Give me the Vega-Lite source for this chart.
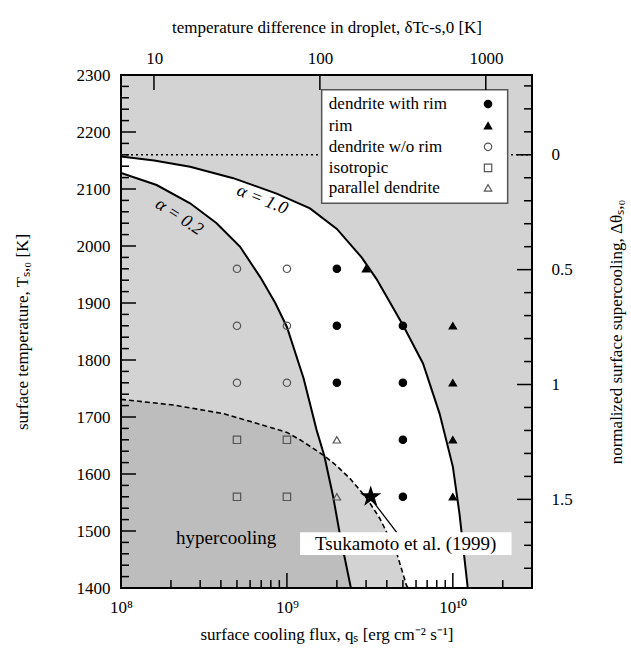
{
  "$schema": "https://vega.github.io/schema/vega-lite/v6.json",
  "width": 411,
  "height": 513,
  "autosize": {"type": "none"},
  "padding": {"left": 121, "top": 75, "right": 99, "bottom": 64},
  "background": "white",
  "config": {
    "font": "Liberation Serif",
    "view": {"fill": "#d3d3d3", "stroke": "black", "strokeWidth": 2},
    "axis": {
      "labelFont": "Liberation Serif", "titleFont": "Liberation Serif",
      "labelFontSize": 17, "titleFontSize": 17, "titleFontWeight": "normal",
      "labelColor": "black", "titleColor": "black",
      "ticks": false, "domain": false, "grid": false, "labelOverlap": false, "labelFlush": false
    }
  },
  "datasets": {
    "curves": [
      {"series": "a10", "q": 1e8, "T": 2157},
      {"series": "a10", "q": 1.585e8, "T": 2150},
      {"series": "a10", "q": 2.61e8, "T": 2139},
      {"series": "a10", "q": 4.75e8, "T": 2119},
      {"series": "a10", "q": 8.67e8, "T": 2092},
      {"series": "a10", "q": 1.377e9, "T": 2066},
      {"series": "a10", "q": 2.0e9, "T": 2030},
      {"series": "a10", "q": 2.82e9, "T": 1980},
      {"series": "a10", "q": 3.47e9, "T": 1942},
      {"series": "a10", "q": 5.01e9, "T": 1861},
      {"series": "a10", "q": 6.61e9, "T": 1794},
      {"series": "a10", "q": 8.32e9, "T": 1706},
      {"series": "a10", "q": 1.0e10, "T": 1613},
      {"series": "a10", "q": 1.096e10, "T": 1531},
      {"series": "a10", "q": 1.23e10, "T": 1400},
      {"series": "a02", "q": 1e8, "T": 2128},
      {"series": "a02", "q": 1.64e8, "T": 2107},
      {"series": "a02", "q": 2.61e8, "T": 2075},
      {"series": "a02", "q": 3.77e8, "T": 2040},
      {"series": "a02", "q": 5.21e8, "T": 1999},
      {"series": "a02", "q": 6.92e8, "T": 1945},
      {"series": "a02", "q": 8.51e8, "T": 1900},
      {"series": "a02", "q": 1.0e9, "T": 1858},
      {"series": "a02", "q": 1.26e9, "T": 1768},
      {"series": "a02", "q": 1.51e9, "T": 1677},
      {"series": "a02", "q": 1.68e9, "T": 1632},
      {"series": "a02", "q": 1.9e9, "T": 1560},
      {"series": "a02", "q": 2.08e9, "T": 1496},
      {"series": "a02", "q": 2.43e9, "T": 1400},
      {"series": "dash", "q": 1e8, "T": 1731},
      {"series": "dash", "q": 2.07e8, "T": 1721},
      {"series": "dash", "q": 4.13e8, "T": 1706},
      {"series": "dash", "q": 6.56e8, "T": 1689},
      {"series": "dash", "q": 1.0e9, "T": 1673},
      {"series": "dash", "q": 1.2e9, "T": 1660},
      {"series": "dash", "q": 1.68e9, "T": 1632},
      {"series": "dash", "q": 2.0e9, "T": 1614},
      {"series": "dash", "q": 2.4e9, "T": 1592},
      {"series": "dash", "q": 3.02e9, "T": 1558},
      {"series": "dash", "q": 3.63e9, "T": 1522},
      {"series": "dash", "q": 4.57e9, "T": 1463},
      {"series": "dash", "q": 5.25e9, "T": 1405},
      {"series": "dash", "q": 5.37e9, "T": 1400},
      {"series": "hyper", "q": 1e8, "T": 1731},
      {"series": "hyper", "q": 2.07e8, "T": 1721},
      {"series": "hyper", "q": 4.13e8, "T": 1706},
      {"series": "hyper", "q": 6.56e8, "T": 1689},
      {"series": "hyper", "q": 1.0e9, "T": 1673},
      {"series": "hyper", "q": 1.2e9, "T": 1660},
      {"series": "hyper", "q": 1.68e9, "T": 1632},
      {"series": "hyper", "q": 1.9e9, "T": 1560},
      {"series": "hyper", "q": 2.08e9, "T": 1496},
      {"series": "hyper", "q": 2.43e9, "T": 1400},
      {"series": "melt", "q": 1e8, "T": 2160},
      {"series": "melt", "q": 3e10, "T": 2160}
    ],
    "pts": [
      {"q": 5e8, "T": 1960, "type": "dendrite w/o rim"},
      {"q": 1e9, "T": 1960, "type": "dendrite w/o rim"},
      {"q": 2e9, "T": 1960, "type": "dendrite with rim"},
      {"q": 3e9, "T": 1960, "type": "rim"},
      {"q": 5e8, "T": 1860, "type": "dendrite w/o rim"},
      {"q": 1e9, "T": 1860, "type": "dendrite w/o rim"},
      {"q": 2e9, "T": 1860, "type": "dendrite with rim"},
      {"q": 5e9, "T": 1860, "type": "dendrite with rim"},
      {"q": 1e10, "T": 1860, "type": "rim"},
      {"q": 5e8, "T": 1760, "type": "dendrite w/o rim"},
      {"q": 1e9, "T": 1760, "type": "dendrite w/o rim"},
      {"q": 2e9, "T": 1760, "type": "dendrite with rim"},
      {"q": 5e9, "T": 1760, "type": "dendrite with rim"},
      {"q": 1e10, "T": 1760, "type": "rim"},
      {"q": 5e8, "T": 1660, "type": "isotropic"},
      {"q": 1e9, "T": 1660, "type": "isotropic"},
      {"q": 2e9, "T": 1660, "type": "parallel dendrite"},
      {"q": 5e9, "T": 1660, "type": "dendrite with rim"},
      {"q": 1e10, "T": 1660, "type": "rim"},
      {"q": 5e8, "T": 1560, "type": "isotropic"},
      {"q": 1e9, "T": 1560, "type": "isotropic"},
      {"q": 2e9, "T": 1560, "type": "parallel dendrite"},
      {"q": 5e9, "T": 1560, "type": "dendrite with rim"},
      {"q": 1e10, "T": 1560, "type": "rim"}
    ],
    "legendRows": [
      {"type": "dendrite with rim", "lq": 1.79e9, "q": 1.63e10, "T": 2249},
      {"type": "rim", "lq": 1.79e9, "q": 1.63e10, "T": 2211},
      {"type": "dendrite w/o rim", "lq": 1.79e9, "q": 1.63e10, "T": 2174},
      {"type": "isotropic", "lq": 1.79e9, "q": 1.63e10, "T": 2137},
      {"type": "parallel dendrite", "lq": 1.79e9, "q": 1.63e10, "T": 2102}
    ],
    "bottomTicks": [
      {"q": 2e8, "T": 1400, "kind": "minor"}, {"q": 3e8, "T": 1400, "kind": "minor"}, {"q": 4e8, "T": 1400, "kind": "minor"}, {"q": 5e8, "T": 1400, "kind": "minor"},
      {"q": 6e8, "T": 1400, "kind": "minor"}, {"q": 7e8, "T": 1400, "kind": "minor"}, {"q": 8e8, "T": 1400, "kind": "minor"}, {"q": 9e8, "T": 1400, "kind": "minor"},
      {"q": 1e9, "T": 1400, "kind": "major"},
      {"q": 2e9, "T": 1400, "kind": "minor"}, {"q": 3e9, "T": 1400, "kind": "minor"}, {"q": 4e9, "T": 1400, "kind": "minor"}, {"q": 5e9, "T": 1400, "kind": "minor"},
      {"q": 6e9, "T": 1400, "kind": "minor"}, {"q": 7e9, "T": 1400, "kind": "minor"}, {"q": 8e9, "T": 1400, "kind": "minor"}, {"q": 9e9, "T": 1400, "kind": "minor"},
      {"q": 1e10, "T": 1400, "kind": "major"},
      {"q": 2e10, "T": 1400, "kind": "minor"}
    ],
    "topTicks": [
      {"q": 1.58e8, "T": 2300}, {"q": 1.58e9, "T": 2300}, {"q": 1.58e10, "T": 2300}
    ],
    "leftTicks": [
      {"q": 1e8, "T": 1420, "kind": "minor"}, {"q": 1e8, "T": 1440, "kind": "minor"}, {"q": 1e8, "T": 1460, "kind": "minor"}, {"q": 1e8, "T": 1480, "kind": "minor"}, {"q": 1e8, "T": 1500, "kind": "major"},
      {"q": 1e8, "T": 1520, "kind": "minor"}, {"q": 1e8, "T": 1540, "kind": "minor"}, {"q": 1e8, "T": 1560, "kind": "minor"}, {"q": 1e8, "T": 1580, "kind": "minor"}, {"q": 1e8, "T": 1600, "kind": "major"},
      {"q": 1e8, "T": 1620, "kind": "minor"}, {"q": 1e8, "T": 1640, "kind": "minor"}, {"q": 1e8, "T": 1660, "kind": "minor"}, {"q": 1e8, "T": 1680, "kind": "minor"}, {"q": 1e8, "T": 1700, "kind": "major"},
      {"q": 1e8, "T": 1720, "kind": "minor"}, {"q": 1e8, "T": 1740, "kind": "minor"}, {"q": 1e8, "T": 1760, "kind": "minor"}, {"q": 1e8, "T": 1780, "kind": "minor"}, {"q": 1e8, "T": 1800, "kind": "major"},
      {"q": 1e8, "T": 1820, "kind": "minor"}, {"q": 1e8, "T": 1840, "kind": "minor"}, {"q": 1e8, "T": 1860, "kind": "minor"}, {"q": 1e8, "T": 1880, "kind": "minor"}, {"q": 1e8, "T": 1900, "kind": "major"},
      {"q": 1e8, "T": 1920, "kind": "minor"}, {"q": 1e8, "T": 1940, "kind": "minor"}, {"q": 1e8, "T": 1960, "kind": "minor"}, {"q": 1e8, "T": 1980, "kind": "minor"}, {"q": 1e8, "T": 2000, "kind": "major"},
      {"q": 1e8, "T": 2020, "kind": "minor"}, {"q": 1e8, "T": 2040, "kind": "minor"}, {"q": 1e8, "T": 2060, "kind": "minor"}, {"q": 1e8, "T": 2080, "kind": "minor"}, {"q": 1e8, "T": 2100, "kind": "major"},
      {"q": 1e8, "T": 2120, "kind": "minor"}, {"q": 1e8, "T": 2140, "kind": "minor"}, {"q": 1e8, "T": 2160, "kind": "minor"}, {"q": 1e8, "T": 2180, "kind": "minor"}, {"q": 1e8, "T": 2200, "kind": "major"},
      {"q": 1e8, "T": 2220, "kind": "minor"}, {"q": 1e8, "T": 2240, "kind": "minor"}, {"q": 1e8, "T": 2260, "kind": "minor"}, {"q": 1e8, "T": 2280, "kind": "minor"}
    ],
    "rightTicks": [
      {"q": 3e10, "T": 2280.9, "kind": "minor"}, {"q": 3e10, "T": 2240.6, "kind": "minor"}, {"q": 3e10, "T": 2200.3, "kind": "minor"}, {"q": 3e10, "T": 2160, "kind": "major"},
      {"q": 3e10, "T": 2119.7, "kind": "minor"}, {"q": 3e10, "T": 2079.4, "kind": "minor"}, {"q": 3e10, "T": 2039.1, "kind": "minor"}, {"q": 3e10, "T": 1998.8, "kind": "minor"}, {"q": 3e10, "T": 1958.5, "kind": "major"},
      {"q": 3e10, "T": 1918.2, "kind": "minor"}, {"q": 3e10, "T": 1877.9, "kind": "minor"}, {"q": 3e10, "T": 1837.6, "kind": "minor"}, {"q": 3e10, "T": 1797.3, "kind": "minor"}, {"q": 3e10, "T": 1757, "kind": "major"},
      {"q": 3e10, "T": 1716.7, "kind": "minor"}, {"q": 3e10, "T": 1676.4, "kind": "minor"}, {"q": 3e10, "T": 1636.1, "kind": "minor"}, {"q": 3e10, "T": 1595.8, "kind": "minor"}, {"q": 3e10, "T": 1555.5, "kind": "major"},
      {"q": 3e10, "T": 1515.2, "kind": "minor"}, {"q": 3e10, "T": 1474.9, "kind": "minor"}, {"q": 3e10, "T": 1434.6, "kind": "minor"}
    ]
  },
  "layer": [
    {
      "layer": [
        {
          "data": {"name": "curves"},
          "transform": [{"filter": "datum.series == 'a10'"}],
          "mark": {"type": "area", "color": "white", "clip": true},
          "encoding": {
            "x": {
              "field": "q", "type": "quantitative",
              "scale": {"type": "log", "domain": [1e8, 3e10], "nice": false},
              "axis": {
                "orient": "bottom", "values": [1e8, 1e9, 1e10],
                "labelExpr": "datum.value == 1e8 ? '10⁸' : datum.value == 1e9 ? '10⁹' : '10¹⁰'",
                "labelPadding": 11, "labelOverlap": false,
                "title": "surface cooling flux, qₛ [erg cm⁻² s⁻¹]",
                "titleX": 205.5, "titleY": 46, "titleBaseline": "middle", "titleAlign": "center"
              }
            },
            "y": {
              "field": "T", "type": "quantitative",
              "scale": {"domain": [1400, 2300], "nice": false, "zero": false},
              "axis": {
                "orient": "left",
                "values": [1400, 1500, 1600, 1700, 1800, 1900, 2000, 2100, 2200, 2300],
                "format": "d", "labelPadding": 11, "labelOverlap": false,
                "title": "surface temperature, Tₛ,₀ [K]",
                "titleAngle": 270, "titleX": -99, "titleY": 256.5, "titleBaseline": "middle", "titleAlign": "center"
              }
            },
            "y2": {"datum": 1400}
          }
        },
        {
          "data": {"name": "curves"},
          "transform": [{"filter": "datum.series == 'a02'"}],
          "mark": {"type": "area", "color": "#d3d3d3", "clip": true},
          "encoding": {
            "x": {"field": "q", "type": "quantitative"},
            "y": {"field": "T", "type": "quantitative"},
            "y2": {"datum": 1400}
          }
        },
        {
          "data": {"name": "curves"},
          "transform": [{"filter": "datum.series == 'dash'"}],
          "mark": {"type": "area", "color": "#d3d3d3", "clip": true},
          "encoding": {
            "x": {"field": "q", "type": "quantitative"},
            "y": {"field": "T", "type": "quantitative"},
            "y2": {"datum": 1400}
          }
        },
        {
          "data": {"name": "curves"},
          "transform": [{"filter": "datum.series == 'hyper'"}],
          "mark": {"type": "area", "color": "#bdbdbd", "clip": true},
          "encoding": {
            "x": {"field": "q", "type": "quantitative"},
            "y": {"field": "T", "type": "quantitative"},
            "y2": {"datum": 1400}
          }
        },
        {
          "data": {"name": "curves"},
          "transform": [{"filter": "datum.series == 'melt'"}],
          "mark": {"type": "line", "color": "black", "strokeWidth": 1.5, "strokeDash": [2, 3], "clip": true},
          "encoding": {
            "x": {"field": "q", "type": "quantitative"},
            "y": {"field": "T", "type": "quantitative"}
          }
        },
        {
          "data": {"name": "curves"},
          "transform": [{"filter": "datum.series == 'a10' || datum.series == 'a02'"}],
          "mark": {"type": "line", "color": "black", "strokeWidth": 2, "clip": true},
          "encoding": {
            "x": {"field": "q", "type": "quantitative"},
            "y": {"field": "T", "type": "quantitative"},
            "detail": {"field": "series"}
          }
        },
        {
          "data": {"name": "curves"},
          "transform": [{"filter": "datum.series == 'dash'"}],
          "mark": {"type": "line", "color": "black", "strokeWidth": 1.6, "strokeDash": [5, 3], "clip": true},
          "encoding": {
            "x": {"field": "q", "type": "quantitative"},
            "y": {"field": "T", "type": "quantitative"}
          }
        },
        {
          "data": {"values": [{"q": 3.3e9, "T": 1552}, {"q": 4.6e9, "T": 1497}]},
          "mark": {"type": "line", "color": "black", "strokeWidth": 1.3},
          "encoding": {
            "x": {"field": "q", "type": "quantitative"},
            "y": {"field": "T", "type": "quantitative"}
          }
        },
        {
          "data": {"values": [{"q": 1.2e9, "q2": 2.26e10, "T": 1498, "T2": 1458}]},
          "mark": {"type": "rect", "color": "white"},
          "encoding": {
            "x": {"field": "q", "type": "quantitative"},
            "x2": {"field": "q2"},
            "y": {"field": "T", "type": "quantitative"},
            "y2": {"field": "T2"}
          }
        },
        {
          "data": {"values": [{"q": 5.2e9, "T": 1478, "label": "Tsukamoto et al. (1999)"}]},
          "mark": {"type": "text", "font": "Liberation Serif", "fontSize": 19, "color": "black", "align": "center", "baseline": "middle"},
          "encoding": {
            "x": {"field": "q", "type": "quantitative"},
            "y": {"field": "T", "type": "quantitative"},
            "text": {"field": "label"}
          }
        },
        {
          "data": {"values": [{"q": 4.3e8, "T": 1487, "label": "hypercooling"}]},
          "mark": {"type": "text", "font": "Liberation Serif", "fontSize": 19, "color": "black", "align": "center", "baseline": "middle"},
          "encoding": {
            "x": {"field": "q", "type": "quantitative"},
            "y": {"field": "T", "type": "quantitative"},
            "text": {"field": "label"}
          }
        },
        {
          "data": {"values": [{"q": 7.1e8, "T": 2081, "label": "α = 1.0"}]},
          "mark": {"type": "text", "font": "Liberation Serif", "fontSize": 18, "fontStyle": "italic", "color": "black", "align": "center", "baseline": "middle", "angle": 22},
          "encoding": {
            "x": {"field": "q", "type": "quantitative"},
            "y": {"field": "T", "type": "quantitative"},
            "text": {"field": "label"}
          }
        },
        {
          "data": {"values": [{"q": 2.24e8, "T": 2051, "label": "α = 0.2"}]},
          "mark": {"type": "text", "font": "Liberation Serif", "fontSize": 18, "fontStyle": "italic", "color": "black", "align": "center", "baseline": "middle", "angle": 33},
          "encoding": {
            "x": {"field": "q", "type": "quantitative"},
            "y": {"field": "T", "type": "quantitative"},
            "text": {"field": "label"}
          }
        },
        {
          "data": {"name": "pts"},
          "mark": {"type": "point", "size": 55, "strokeWidth": 1.2, "opacity": 1},
          "encoding": {
            "x": {"field": "q", "type": "quantitative"},
            "y": {"field": "T", "type": "quantitative"},
            "shape": {
              "field": "type", "type": "nominal", "legend": null,
              "scale": {"domain": ["dendrite with rim", "rim", "dendrite w/o rim", "isotropic", "parallel dendrite"], "range": ["circle", "triangle-up", "circle", "square", "triangle-up"]}
            },
            "fill": {
              "field": "type", "type": "nominal", "legend": null,
              "scale": {"domain": ["dendrite with rim", "rim", "dendrite w/o rim", "isotropic", "parallel dendrite"], "range": ["black", "black", "transparent", "transparent", "transparent"]}
            },
            "stroke": {
              "field": "type", "type": "nominal", "legend": null,
              "scale": {"domain": ["dendrite with rim", "rim", "dendrite w/o rim", "isotropic", "parallel dendrite"], "range": ["black", "black", "#555555", "#555555", "#555555"]}
            }
          }
        },
        {
          "data": {"values": [{"q": 3.2e9, "T": 1560}]},
          "mark": {"type": "point", "shape": "M0,-1L0.2245,-0.309L0.951,-0.309L0.3633,0.118L0.588,0.809L0,0.382L-0.588,0.809L-0.3633,0.118L-0.951,-0.309L-0.2245,-0.309Z", "size": 500, "filled": true, "color": "black", "opacity": 1},
          "encoding": {
            "x": {"field": "q", "type": "quantitative"},
            "y": {"field": "T", "type": "quantitative"}
          }
        },
        {
          "data": {"values": [{"q": 1.62e9, "q2": 2.14e10, "T": 2274, "T2": 2075}]},
          "mark": {"type": "rect", "fill": "white", "stroke": "#555555", "strokeWidth": 1.5},
          "encoding": {
            "x": {"field": "q", "type": "quantitative"},
            "x2": {"field": "q2"},
            "y": {"field": "T", "type": "quantitative"},
            "y2": {"field": "T2"}
          }
        },
        {
          "data": {"name": "legendRows"},
          "mark": {"type": "text", "font": "Liberation Serif", "fontSize": 17, "color": "black", "align": "left", "baseline": "middle"},
          "encoding": {
            "x": {"field": "lq", "type": "quantitative"},
            "y": {"field": "T", "type": "quantitative"},
            "text": {"field": "type"}
          }
        },
        {
          "data": {"name": "legendRows"},
          "mark": {"type": "point", "size": 55, "strokeWidth": 1.2, "opacity": 1},
          "encoding": {
            "x": {"field": "q", "type": "quantitative"},
            "y": {"field": "T", "type": "quantitative"},
            "shape": {"field": "type", "type": "nominal", "legend": null},
            "fill": {"field": "type", "type": "nominal", "legend": null},
            "stroke": {"field": "type", "type": "nominal", "legend": null}
          }
        },
        {
          "data": {"name": "bottomTicks"},
          "transform": [{"filter": "datum.kind == 'major'"}],
          "mark": {"type": "tick", "orient": "vertical", "color": "black", "size": 15, "thickness": 1.5, "yOffset": -7.5, "opacity": 1},
          "encoding": {
            "x": {"field": "q", "type": "quantitative"},
            "y": {"field": "T", "type": "quantitative"}
          }
        },
        {
          "data": {"name": "bottomTicks"},
          "transform": [{"filter": "datum.kind == 'minor'"}],
          "mark": {"type": "tick", "orient": "vertical", "color": "black", "size": 8, "thickness": 1.5, "yOffset": -4, "opacity": 1},
          "encoding": {
            "x": {"field": "q", "type": "quantitative"},
            "y": {"field": "T", "type": "quantitative"}
          }
        },
        {
          "data": {"name": "topTicks"},
          "mark": {"type": "tick", "orient": "vertical", "color": "black", "size": 15, "thickness": 1.5, "yOffset": 7.5, "opacity": 1},
          "encoding": {
            "x": {"field": "q", "type": "quantitative"},
            "y": {"field": "T", "type": "quantitative"}
          }
        },
        {
          "data": {"name": "leftTicks"},
          "transform": [{"filter": "datum.kind == 'major'"}],
          "mark": {"type": "tick", "orient": "horizontal", "color": "black", "size": 15, "thickness": 1.5, "xOffset": 7.5, "opacity": 1},
          "encoding": {
            "x": {"field": "q", "type": "quantitative"},
            "y": {"field": "T", "type": "quantitative"}
          }
        },
        {
          "data": {"name": "leftTicks"},
          "transform": [{"filter": "datum.kind == 'minor'"}],
          "mark": {"type": "tick", "orient": "horizontal", "color": "black", "size": 8, "thickness": 1.5, "xOffset": 4, "opacity": 1},
          "encoding": {
            "x": {"field": "q", "type": "quantitative"},
            "y": {"field": "T", "type": "quantitative"}
          }
        },
        {
          "data": {"name": "rightTicks"},
          "transform": [{"filter": "datum.kind == 'major'"}],
          "mark": {"type": "tick", "orient": "horizontal", "color": "black", "size": 15, "thickness": 1.5, "xOffset": -7.5, "opacity": 1},
          "encoding": {
            "x": {"field": "q", "type": "quantitative"},
            "y": {"field": "T", "type": "quantitative"}
          }
        },
        {
          "data": {"name": "rightTicks"},
          "transform": [{"filter": "datum.kind == 'minor'"}],
          "mark": {"type": "tick", "orient": "horizontal", "color": "black", "size": 8, "thickness": 1.5, "xOffset": -4, "opacity": 1},
          "encoding": {
            "x": {"field": "q", "type": "quantitative"},
            "y": {"field": "T", "type": "quantitative"}
          }
        },
        {
          "data": {"values": [{"q": 1e8, "q2": 3e10, "T": 1400, "T2": 2300}]},
          "mark": {"type": "rect", "fill": "white", "fillOpacity": 0, "stroke": "black", "strokeWidth": 2},
          "encoding": {
            "x": {"field": "q", "type": "quantitative"},
            "x2": {"field": "q2"},
            "y": {"field": "T", "type": "quantitative"},
            "y2": {"field": "T2"}
          }
        }
      ]
    },
    {
      "data": {"values": [{"dT": 10}]},
      "mark": {"type": "point", "opacity": 0},
      "encoding": {
        "x": {
          "field": "dT", "type": "quantitative",
          "scale": {"type": "log", "domain": [6.3, 1895], "nice": false},
          "axis": {
            "orient": "top", "values": [10, 100, 1000], "format": "d",
            "labelPadding": 8, "labelOverlap": false,
            "title": "temperature difference in droplet, δTc-s,0 [K]",
            "titleX": 205.5, "titleY": -48, "titleBaseline": "middle", "titleAlign": "center"
          }
        }
      }
    },
    {
      "data": {"values": [{"th": 0}]},
      "mark": {"type": "point", "opacity": 0},
      "encoding": {
        "y": {
          "field": "th", "type": "quantitative",
          "scale": {"domain": [-0.347, 1.886], "reverse": true, "nice": false, "zero": false},
          "axis": {
            "orient": "right", "values": [0, 0.5, 1, 1.5],
            "labelExpr": "datum.value == 0 ? '0' : datum.value == 0.5 ? '0.5' : datum.value == 1 ? '1' : '1.5'",
            "labelPadding": 19, "labelOverlap": false,
            "title": "normalized surface supercooling, Δθₛ,₀",
            "titleAngle": 270, "titleX": 84, "titleY": 256.5, "titleBaseline": "middle", "titleAlign": "center"
          }
        }
      }
    }
  ],
  "resolve": {"scale": {"x": "independent", "y": "independent"}}
}
